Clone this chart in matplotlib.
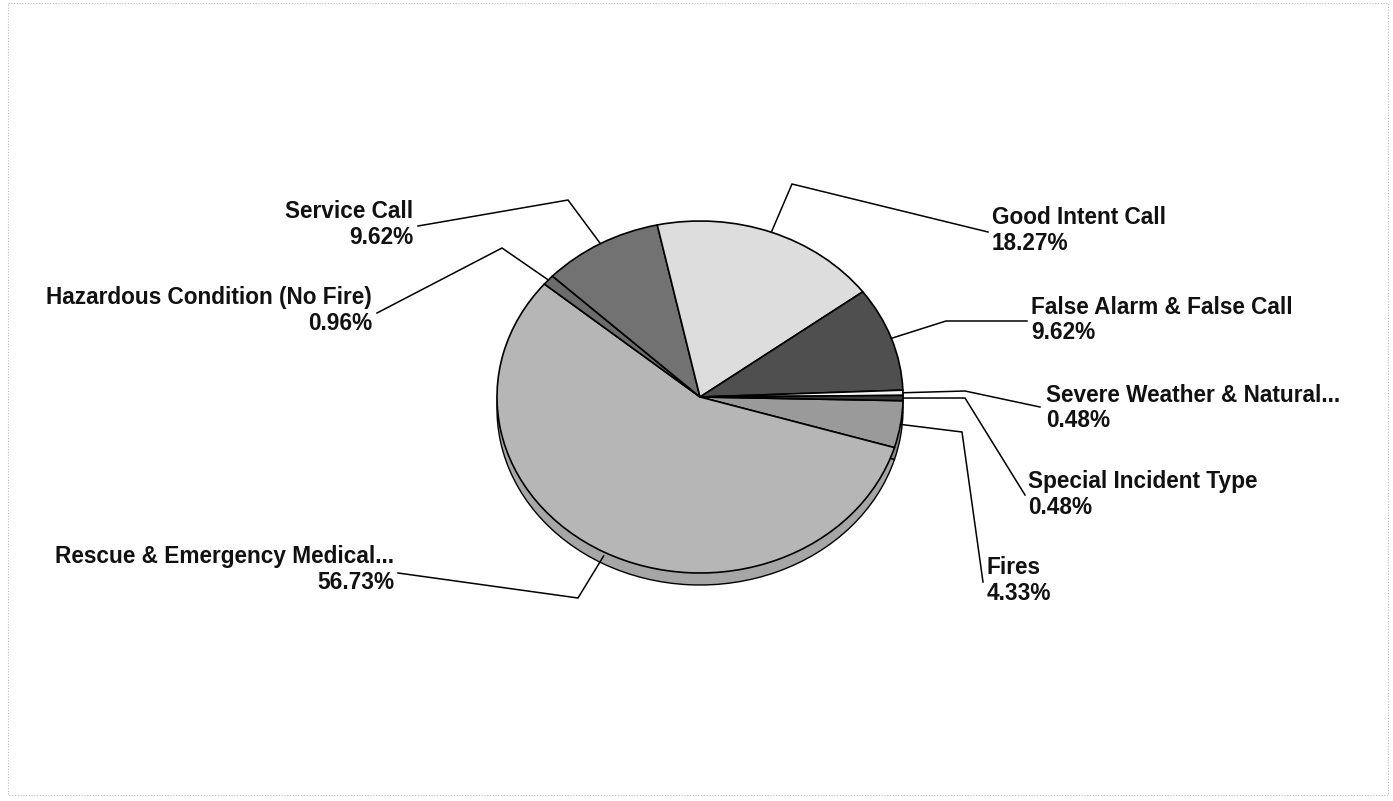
import matplotlib
matplotlib.use("Agg")
import matplotlib.pyplot as plt
import numpy as np
from matplotlib.patches import Rectangle

# ---- data (clockwise from the right-hand edge) -------------------------------
categories = ["Fires", "Rescue & Emergency Medical...",
              "Hazardous Condition (No Fire)", "Service Call",
              "Good Intent Call", "False Alarm & False Call",
              "Severe Weather & Natural...", "Special Incident Type"]
shares = [4.33, 56.73, 0.96, 9.62, 18.27, 9.62, 0.48, 0.48]
pct_labels = ["4.33%", "56.73%", "0.96%", "9.62%", "18.27%", "9.62%",
              "0.48%", "0.48%"]

# ---- styling ---------------------------------------------------------------------
top_colors = ["#9a9a9a", "#b6b6b6", "#6c6c6c", "#727272", "#dddddd",
              "#4f4f4f", "#f4f4f4", "#3a3a3a"]
rim_colors = ["#8a8a8a", "#a6a6a6", "#5c5c5c", "#626262", "#cccccc",
              "#424242", "#e0e0e0", "#303030"]
FONT = ["Liberation Sans", "DejaVu Sans"]

W, H = 1393, 801
CX, CY, RX, RY, DEPTH = 700, 397, 203, 176, 12
START = -1.2  # degrees, start of first slice

# label layout: (knee, line end, text anchor, ha)
layout = [
    ((962, 432), (983, 582), (987, 580.5), "left"),     # Fires
    ((578, 598), (398, 573), (394, 569.5), "right"),    # Rescue
    ((502, 248), (377, 313), (372, 310.5), "right"),    # Hazardous
    ((568, 200), (418, 226), (413, 224.5), "right"),    # Service
    ((792, 184), (988, 232), (992, 230.5), "left"),     # Good Intent
    ((946, 321), (1027, 321), (1031, 320), "left"),     # False Alarm
    ((965, 391), (1040, 407), (1046, 408), "left"),     # Severe Weather
    ((965, 398), (1025, 495), (1028, 494.5), "left"),   # Special
]

fig = plt.figure(figsize=(W / 100, H / 100), dpi=100)
fig.patch.set_facecolor("white")

# pie lives in its own axes, stretched into an ellipse
pax = fig.add_axes([(CX - RX) / W, (H - CY - RY) / H, 2 * RX / W, 2 * RY / H])
dy = -DEPTH / RY
pax.add_patch(Rectangle((-1, dy), 2, -dy, fc=rim_colors[1], ec="none",
                        clip_on=False, zorder=0))
rim, _ = pax.pie(shares, colors=rim_colors, startangle=START,
                 counterclock=False, center=(0, dy), radius=1,
                 wedgeprops=dict(ec="black", lw=1.0, clip_on=False))
top, _ = pax.pie(shares, colors=top_colors, startangle=START,
                 counterclock=False, center=(0, 0), radius=1,
                 wedgeprops=dict(ec="black", lw=1.2, clip_on=False))
pax.set_aspect("auto")
pax.set_xlim(-1, 1)
pax.set_ylim(-1, 1)
pax.axis("off")

# overlay in pixel coordinates for leader lines and labels
ov = fig.add_axes([0, 0, 1, 1])
ov.set_xlim(0, W)
ov.set_ylim(H, 0)
ov.axis("off")
ov.patch.set_alpha(0)

for i, w in enumerate(top):
    mid = np.deg2rad((w.theta1 + w.theta2) / 2)
    px = CX + RX * np.cos(mid)
    py = CY - RY * np.sin(mid)
    if np.sin(mid) < -0.5:
        py += 4
    knee, end, anchor, ha = layout[i]
    ov.plot([px, knee[0], end[0]], [py, knee[1], end[1]], color="black",
            lw=1.1, solid_joinstyle="miter")
    ov.text(anchor[0], anchor[1], categories[i] + "\n" + pct_labels[i],
            ha=ha, va="center", multialignment=ha, fontsize=16.3,
            fontweight="bold", family=FONT, linespacing=1.13, color="#111111")

# faint dotted frame of the scanned chart
ov.add_patch(Rectangle((8, 3), 1380, 792, fill=False, ec="#bdbdbd", lw=0.8,
                       ls=(0, (1, 1.5))))

fig.savefig("out.png", dpi=100, facecolor="white")
